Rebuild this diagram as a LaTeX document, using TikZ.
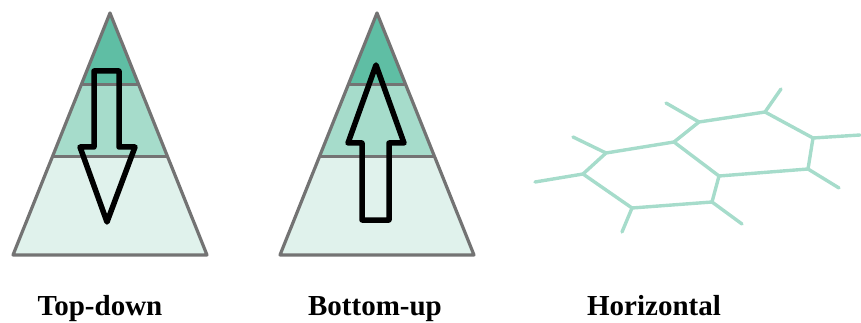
\documentclass[tikz,border=0pt]{standalone}
\usepackage{fontspec}
\setmainfont{Liberation Serif}
\begin{document}
\begin{tikzpicture}[x=1pt,y=-1pt,
  outline/.style={draw=gray!90!black, line width=3.2pt, line join=round},
  bandline/.style={draw=gray!90!black, line width=3pt},
  bigarrow/.style={draw=black, line width=5.5pt, line join=round},
  net/.style={draw=netc, line width=3.4pt, line cap=round, line join=round},
  lbl/.style={font=\fontsize{29}{32}\selectfont\bfseries, anchor=base, inner sep=0pt}]
\definecolor{topc}{HTML}{5FBEA4}
\definecolor{midc}{HTML}{A6DCCB}
\definecolor{botc}{HTML}{E0F2EC}
\definecolor{netc}{HTML}{A6DCCB}
\useasboundingbox (0,0) rectangle (861,323);
% pyramids
\foreach \ax/\bl/\br/\nm in {110/13/207/a, 377/280/474/b}{
  \begin{scope}
    \clip (\ax,13) -- (\br,255) -- (\bl,255) -- cycle;
    \fill[botc] (\bl-5,0) rectangle (\br+5,260);
    \fill[midc] (\bl-5,0) rectangle (\br+5,157);
    \fill[topc] (\bl-5,0) rectangle (\br+5,85);
    \draw[bandline] (\bl-5,85) -- (\br+5,85);
    \draw[bandline] (\bl-5,157) -- (\br+5,157);
  \end{scope}
  \draw[outline] (\ax,13) -- (\br,255) -- (\bl,255) -- cycle;
}
% arrows
\draw[bigarrow] (94,71) -- (119,71) -- (119,147) -- (135,147) -- (107,222) -- (80,147) -- (94,147) -- cycle;
\draw[bigarrow] (376,65) -- (404,143) -- (389,143) -- (389,220) -- (362,220) -- (362,143) -- (348,143) -- cycle;
% network
\coordinate (A) at (606,153);
\coordinate (B) at (674,142);
\coordinate (C) at (719,176);
\coordinate (D) at (712,202);
\coordinate (E) at (632,208);
\coordinate (F) at (583,174);
\coordinate (G) at (699,122);
\coordinate (H) at (765,112);
\coordinate (I) at (813,138);
\coordinate (J) at (808,169);
\coordinate (sA) at (573,137);
\coordinate (sF) at (535,182);
\coordinate (sE) at (622,232);
\coordinate (sD) at (742,224);
\coordinate (sG) at (666,103);
\coordinate (sH) at (781,89);
\coordinate (sI) at (860,135);
\coordinate (sJ) at (839,188);
\draw[net] (A) -- (B) -- (C) -- (D) -- (E) -- (F) -- cycle;
\draw[net] (B) -- (G) -- (H) -- (I) -- (J) -- (C);
\foreach \p in {A,F,E,D,G,H,I,J}{\draw[net] (\p) -- (s\p);}
% labels
\node[lbl] (l1) at (100,315) {Top-down};
\node[lbl] (l2) at (375,315) {Bottom-up};
\node[lbl] (l3) at (654,315) {Horizontal};
\end{tikzpicture}
\end{document}
